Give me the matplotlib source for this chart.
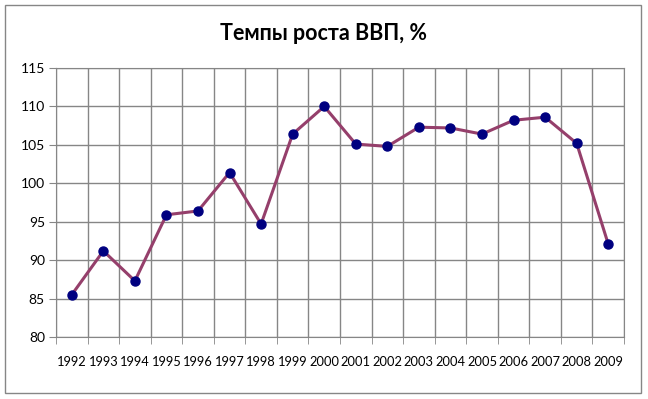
import matplotlib.pyplot as plt
import numpy as np
from matplotlib.patches import Rectangle

years = [str(y) for y in range(1992, 2010)]
gdp_growth = [85.5, 91.2, 87.3, 95.9, 96.4, 101.4, 94.7, 106.4, 110.0,
              105.1, 104.8, 107.3, 107.2, 106.4, 108.2, 108.6, 105.2, 92.1]
y_ticks = [80, 85, 90, 95, 100, 105, 110, 115]

plt.rcParams['font.family'] = ['Lato', 'DejaVu Sans']

fig = plt.figure(figsize=(6.48, 3.99), dpi=100)
ax = fig.add_axes([56 / 648, 1 - 337 / 399, (624 - 56) / 648, (337 - 68) / 399])

grid_col = '#868686'
x = np.arange(len(years))
ax.plot(x, gdp_growth, color='#953F6B', lw=2.2, marker='o', markersize=6.5,
        markerfacecolor='#000080', markeredgecolor='#000080', zorder=3)

ax.set_xlim(-0.5, len(years) - 0.5)
ax.set_ylim(80, 115)
ax.set_yticks(y_ticks)
ax.set_yticklabels([str(v) for v in y_ticks], fontsize=10)
ax.set_xticks(x)
ax.set_xticklabels(years, fontsize=9.3)
ax.set_xticks(np.arange(len(years) + 1) - 0.5, minor=True)
ax.tick_params(axis='x', which='major', length=0, pad=14)
ax.tick_params(axis='x', which='minor', length=5, color=grid_col)
ax.tick_params(axis='y', length=5, color=grid_col, pad=3)

ax.grid(True, which='minor', axis='x', color=grid_col, lw=1)
ax.grid(True, which='major', axis='y', color=grid_col, lw=1)
ax.set_axisbelow(True)
for s in ax.spines.values():
    s.set_color(grid_col)

fig.text(0.5, 1 - 33 / 399, 'Темпы роста ВВП, %', ha='center', va='center',
         fontsize=15.5, fontweight='bold')

fig.patches.append(Rectangle((5 / 648, 6 / 399), 636 / 648, 388 / 399,
                             transform=fig.transFigure, fill=False,
                             edgecolor='#868686', lw=1))

fig.savefig('out.png', dpi=100)
